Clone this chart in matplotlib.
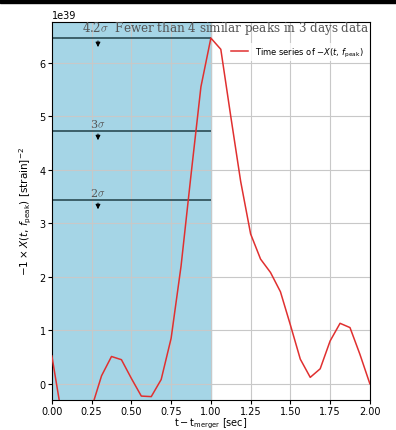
import numpy as np
import matplotlib
matplotlib.use("Agg")
import matplotlib.pyplot as plt

plt.rcParams['mathtext.fontset'] = 'dejavusans'

# time samples (sec after merger) and -X(t, f_peak) in units of 1e39
t = [0.0, 0.0625, 0.125, 0.1875, 0.25, 0.3125, 0.375, 0.4375, 0.5, 0.5625,
     0.625, 0.6875, 0.75, 0.8125, 0.875, 0.9375, 1.0, 1.0625, 1.125, 1.1875,
     1.25, 1.3125, 1.375, 1.4375, 1.5, 1.5625, 1.625, 1.6875, 1.75, 1.8125,
     1.875, 1.9375, 2.0]
x_val = [0.52, -0.6, -1.1, -1.0, -0.45, 0.15, 0.51, 0.45, 0.1, -0.23,
         -0.24, 0.08, 0.85, 2.2, 3.9, 5.55, 6.46, 6.25, 5.0, 3.78,
         2.8, 2.33, 2.08, 1.72, 1.1, 0.46, 0.12, 0.28, 0.8, 1.13,
         1.05, 0.55, 0.0]
scale = 1e39

sigma_levels = [6.46, 4.72, 3.43]
sigma_labels = [r'4.2$\sigma$  Fewer than 4 similar peaks in 3 days data',
                r'3$\sigma$', r'2$\sigma$']

fig = plt.figure(figsize=(3.96, 4.31), dpi=100)
ax = fig.add_axes([0.131, 0.07, 0.803, 0.8766])

ax.axvspan(0, 1, color='#a5d5e6', zorder=0)
ax.grid(True, color='#c8c8c8', linewidth=0.8, zorder=1)

y = np.array(x_val) * scale
ax.plot(t, y, color='#e03030', linewidth=1.1, zorder=3,
        label=r'Time series of $-X(t,\, f_{\rm peak})$')

arrow_x = 0.29
for lvl, lab in zip(sigma_levels, sigma_labels):
    ax.hlines(lvl * scale, 0, 1, color='#1f3f48', linewidth=1.1, zorder=2)
    ax.annotate('', xy=(arrow_x, (lvl - 0.22) * scale), xytext=(arrow_x, lvl * scale),
                arrowprops=dict(arrowstyle='-|>', color='black', lw=0.7,
                                mutation_scale=7), zorder=4)
    if lab.startswith('4.2'):
        ax.text(0.19, (lvl + 0.04) * scale, lab, fontsize=8.6, family='serif',
                color='#555555', ha='left', va='bottom', zorder=5,
                math_fontfamily='cm')
    else:
        ax.text(arrow_x, (lvl + 0.04) * scale, lab, fontsize=8, family='serif',
                color='#555555', ha='center', va='bottom', zorder=5,
                math_fontfamily='cm')

ax.set_xlim(0, 2)
ax.set_ylim(-0.3 * scale, 6.76 * scale)
ax.set_xticks(np.arange(0, 2.01, 0.25))
ax.set_yticks(np.arange(0, 7) * scale)
ax.tick_params(labelsize=7, length=3, pad=1.5)
ax.yaxis.get_offset_text().set_fontsize(7)

ax.set_xlabel(r'$\rm t - t_{merger}$ [sec]', fontsize=7, labelpad=0)
ax.set_ylabel(r'$-1 \times X(t,\, f_{\rm peak})$ [strain]$^{-2}$', fontsize=7.5)

leg = ax.legend(loc='upper right', fontsize=6, frameon=True, framealpha=0.8,
                edgecolor='none', bbox_to_anchor=(1.0, 0.955),
                handlelength=2.0, borderpad=0.3)
leg.set_zorder(6)

# dark band at the very top of the screenshot
fig.patches.append(plt.Rectangle((0, 0.99), 1, 0.01, transform=fig.transFigure,
                                 color='black', zorder=10))

fig.savefig('out.png', dpi=100)
